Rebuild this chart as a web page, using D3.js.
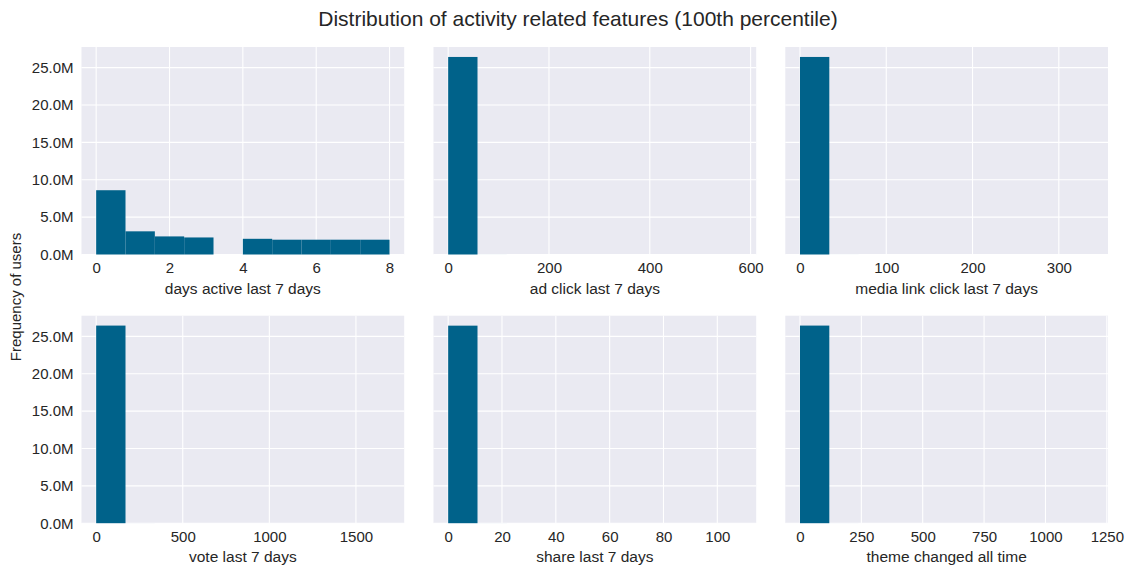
<!DOCTYPE html>
<html>
<head>
<meta charset="utf-8">
<script src="https://cdn.jsdelivr.net/npm/d3@7"></script>
<style>
  body { margin: 0; background: #fff; }
  text { font-family: "Liberation Sans", Arial, sans-serif; fill: #262626; }
</style>
</head>
<body>
<svg width="1133" height="570"></svg>
<script>
const svg = d3.select("svg");

// feature names (x labels)
const features = [
  "days active last 7 days",
  "ad click last 7 days",
  "media link click last 7 days",
  "vote last 7 days",
  "share last 7 days",
  "theme changed all time"
];

// max value of each feature (10 equal bins from 0 to max)
const featureMax = [8, 582, 340, 1694, 109, 1195];

// bin counts per feature
const daysActiveCounts = [8600000, 3100000, 2420000, 2280000, 0, 2100000, 1980000, 1980000, 1980000, 1980000];
const adClickCounts = [26430000, 4000, 600, 150, 50, 20, 8, 4, 2, 1];
const mediaLinkCounts = [26430000, 3000, 400, 100, 40, 15, 6, 3, 2, 1];
const voteCounts = [26440000, 2500, 300, 80, 30, 12, 5, 3, 1, 1];
const shareCounts = [26430000, 3500, 500, 120, 40, 15, 6, 3, 1, 1];
const themeCounts = [26440000, 2000, 200, 60, 25, 10, 4, 2, 1, 1];
const allCounts = [daysActiveCounts, adClickCounts, mediaLinkCounts, voteCounts, shareCounts, themeCounts];

// x tick values per panel
const xTicks = [
  [0, 2, 4, 6, 8],
  [0, 200, 400, 600],
  [0, 100, 200, 300],
  [0, 500, 1000, 1500],
  [0, 20, 40, 60, 80, 100],
  [0, 250, 500, 750, 1000, 1250]
];
const yTicks = [0, 5e6, 10e6, 15e6, 20e6, 25e6];

// layout
const lefts = [81.5, 433.5, 785.3];
const tops = [47, 315.7];
const W = 322.7, H = 207.5;
const barColor = "#00628a";

// shared y scale
const yMax = d3.max(allCounts, c => d3.max(c)) * 1.05;
const y = d3.scaleLinear().domain([0, yMax]).range([H, 0]);

// title
svg.append("text")
  .attr("x", 578).attr("y", 26)
  .attr("text-anchor", "middle")
  .style("font-size", "21px")
  .text("Distribution of activity related features (100th percentile)");

// shared y label
svg.append("text")
  .attr("transform", "translate(21,297) rotate(-90)")
  .attr("text-anchor", "middle")
  .style("font-size", "15px")
  .text("Frequency of users");

features.forEach((name, i) => {
  const col = i % 3, row = Math.floor(i / 3);
  const g = svg.append("g").attr("transform", `translate(${lefts[col]},${tops[row]})`);
  const max = featureMax[i];
  const x = d3.scaleLinear().domain([-0.05 * max, 1.05 * max]).range([0, W]);

  // background
  g.append("rect").attr("width", W).attr("height", H).attr("fill", "#eaeaf2");

  // grid
  g.selectAll(".gx").data(xTicks[i]).enter().append("line")
    .attr("x1", d => x(d)).attr("x2", d => x(d))
    .attr("y1", 0).attr("y2", H)
    .attr("stroke", "#fff").attr("stroke-width", 1.1);
  g.selectAll(".gy").data(yTicks).enter().append("line")
    .attr("x1", 0).attr("x2", W)
    .attr("y1", d => y(d)).attr("y2", d => y(d))
    .attr("stroke", "#fff").attr("stroke-width", 1.1);

  // bars
  const bw = max / 10;
  g.selectAll(".bar").data(allCounts[i]).enter().append("rect")
    .attr("x", (d, k) => x(k * bw))
    .attr("width", (d, k) => x((k + 1) * bw) - x(k * bw))
    .attr("y", d => y(d))
    .attr("height", d => H - y(d))
    .attr("fill", barColor);

  // x axis (no tick lines, like seaborn darkgrid)
  const xAxis = g.append("g").attr("transform", `translate(0,${H})`)
    .call(d3.axisBottom(x).tickValues(xTicks[i]).tickSize(0).tickPadding(8)
      .tickFormat(d3.format("d")));
  xAxis.select(".domain").remove();
  xAxis.selectAll("text").style("font-size", "15px").attr("fill", "#262626")
    .style("font-family", '"Liberation Sans", Arial, sans-serif');

  // y axis labels only on the left column
  if (col === 0) {
    const yAxis = g.append("g")
      .call(d3.axisLeft(y).tickValues(yTicks).tickSize(0).tickPadding(8)
        .tickFormat(d => (d / 1e6).toFixed(1) + "M"));
    yAxis.select(".domain").remove();
    yAxis.selectAll("text").style("font-size", "15px").attr("fill", "#262626")
      .style("font-family", '"Liberation Sans", Arial, sans-serif');
  }

  // x label
  g.append("text")
    .attr("x", W / 2).attr("y", H + 39)
    .attr("text-anchor", "middle")
    .style("font-size", "15.5px")
    .text(name);
});
</script>
</body>
</html>
